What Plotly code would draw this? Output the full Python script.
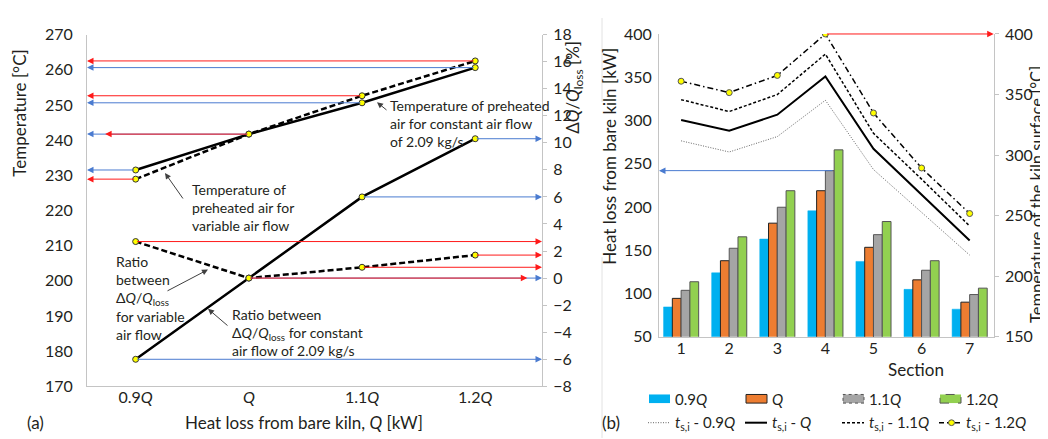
import plotly.graph_objects as go

# ---------------- data: panel (a) ----------------
q_labels = ['0.9<i>Q</i>', '<i>Q</i>', '1.1<i>Q</i>', '1.2<i>Q</i>']
q_pos = [0, 1, 2, 3]
temp_const = [231.5, 241.7, 250.6, 260.6]     # preheated air, constant air flow [°C]
temp_var = [228.9, 241.7, 252.6, 262.5]       # preheated air, variable air flow [°C]
ratio_const = [-6.0, 0.0, 6.0, 10.3]          # dQ/Qloss, constant air flow [%]
ratio_var = [2.7, 0.0, 0.8, 1.7]              # dQ/Qloss, variable air flow [%]

# ---------------- data: panel (b) ----------------
sections = [1, 2, 3, 4, 5, 6, 7]
heat_09 = [84.6, 124.0, 163.0, 195.7, 137.2, 104.9, 82.0]
heat_10 = [94.5, 138.0, 181.4, 218.9, 153.5, 115.9, 90.1]
heat_11 = [103.8, 152.4, 199.8, 242.1, 168.1, 127.0, 98.9]
heat_12 = [113.7, 165.6, 218.9, 266.1, 183.3, 138.0, 106.3]
ts_09 = [311.8, 302.6, 315.3, 345.3, 288.1, 252.6, 217.5]
ts_10 = [329.0, 320.2, 333.4, 365.0, 305.2, 267.6, 229.6]
ts_11 = [345.8, 336.0, 350.0, 383.4, 318.0, 280.2, 241.5]
ts_12 = [361.0, 351.6, 365.8, 400.0, 334.8, 289.4, 251.8]

W, H = 1048, 439
FONT = 'Lato'
TXT = '#231f20'
AX = '#c4c4c4'
RED = '#ff1a1a'
BLUE = '#4a7bd0'
YEL = '#ffff00'


def px(x):
    return x / W


def py(y):
    return 1 - y / H


XA_RANGE = [-0.43, 3.59]
XB_RANGE = [0.54, 7.5]

fig = go.Figure()

mk = dict(symbol='circle', size=6, color=YEL, line=dict(color='#333', width=1))
fig.add_trace(go.Scatter(x=q_pos, y=temp_const, mode='lines+markers', line=dict(color='black', width=2.5),
                         marker=mk, xaxis='x', yaxis='y', showlegend=False))
fig.add_trace(go.Scatter(x=q_pos, y=temp_var, mode='lines+markers', line=dict(color='black', width=2.5, dash='6px,3px'),
                         marker=mk, xaxis='x', yaxis='y', showlegend=False))
fig.add_trace(go.Scatter(x=q_pos, y=ratio_const, mode='lines+markers', line=dict(color='black', width=2.5),
                         marker=mk, xaxis='x', yaxis='y2', showlegend=False))
fig.add_trace(go.Scatter(x=q_pos, y=ratio_var, mode='lines+markers', line=dict(color='black', width=2.5, dash='6px,3px'),
                         marker=mk, xaxis='x', yaxis='y2', showlegend=False))

# panel (b) bars
bar_specs = [
    (heat_09, '#00b0f0', dict(color='#00b0f0', width=0.5)),
    (heat_10, '#ed7d31', dict(color='#222', width=1)),
    (heat_11, '#a5a5a5', dict(color='#555', width=1)),
    (heat_12, '#92d050', dict(color='#555', width=1)),
]
for vals, col, ln in bar_specs:
    fig.add_trace(go.Bar(x=sections, y=vals, marker=dict(color=col, line=ln),
                         xaxis='x2', yaxis='y3', showlegend=False))

# panel (b) lines
fig.add_trace(go.Scatter(x=sections, y=ts_09, mode='lines', line=dict(color='#666', width=1, dash='1px,1.5px'),
                         xaxis='x2', yaxis='y4', showlegend=False))
fig.add_trace(go.Scatter(x=sections, y=ts_10, mode='lines', line=dict(color='black', width=2),
                         xaxis='x2', yaxis='y4', showlegend=False))
fig.add_trace(go.Scatter(x=sections, y=ts_11, mode='lines', line=dict(color='black', width=1.5, dash='3px,2px'),
                         xaxis='x2', yaxis='y4', showlegend=False))
fig.add_trace(go.Scatter(x=sections, y=ts_12, mode='lines+markers',
                         line=dict(color='black', width=1.5, dash='6px,3px,1.5px,3px'),
                         marker=dict(symbol='circle', size=6, color=YEL, line=dict(color='#555', width=1)),
                         xaxis='x2', yaxis='y4', showlegend=False))

ann = []


def harrow(xh, yh, xt, yt, xref, yref, color):
    ann.append(dict(x=xh, y=yh, ax=xt, ay=yt, xref=xref, yref=yref, axref=xref, ayref=yref,
                    showarrow=True, arrowhead=2, arrowsize=1.3, arrowwidth=1, arrowcolor=color,
                    text='', standoff=0))


# left-pointing arrows to temperature axis
harrow(XA_RANGE[0], temp_var[3], q_pos[3], temp_var[3], 'x', 'y', RED)
harrow(XA_RANGE[0], temp_const[3], q_pos[3], temp_const[3], 'x', 'y', BLUE)
harrow(XA_RANGE[0], temp_var[2], q_pos[2], temp_var[2], 'x', 'y', RED)
harrow(XA_RANGE[0], temp_const[2], q_pos[2], temp_const[2], 'x', 'y', BLUE)
harrow(XA_RANGE[0], temp_const[1], q_pos[1], temp_const[1], 'x', 'y', BLUE)
harrow(-0.27, temp_var[1], q_pos[1], temp_var[1], 'x', 'y', RED)
harrow(XA_RANGE[0], temp_const[0], q_pos[0], temp_const[0], 'x', 'y', BLUE)
harrow(XA_RANGE[0], temp_var[0], q_pos[0], temp_var[0], 'x', 'y', RED)
# right-pointing arrows to ratio axis
harrow(XA_RANGE[1], ratio_var[0], q_pos[0], ratio_var[0], 'x', 'y2', RED)
harrow(XA_RANGE[1], ratio_var[2], q_pos[2], ratio_var[2], 'x', 'y2', RED)
harrow(XA_RANGE[1], ratio_var[3], q_pos[3], ratio_var[3], 'x', 'y2', RED)
harrow(XA_RANGE[1], ratio_const[1], q_pos[1], ratio_const[1], 'x', 'y2', BLUE)
harrow(3.46, ratio_var[1], q_pos[1], ratio_var[1], 'x', 'y2', RED)
harrow(XA_RANGE[1], ratio_const[2], q_pos[2], ratio_const[2], 'x', 'y2', BLUE)
harrow(XA_RANGE[1], ratio_const[3], q_pos[3], ratio_const[3], 'x', 'y2', BLUE)
harrow(XA_RANGE[1], ratio_const[0], q_pos[0], ratio_const[0], 'x', 'y2', BLUE)
# panel (b) arrows
harrow(XB_RANGE[0], heat_11[3], sections[3] + 0.18, heat_11[3], 'x2', 'y3', BLUE)
harrow(XB_RANGE[1], ts_12[3], sections[3], ts_12[3], 'x2', 'y4', RED)


def text(x, y, s, size=16, xanchor='center', yanchor='middle', angle=0, align='left'):
    ann.append(dict(x=px(x), y=py(y), xref='paper', yref='paper', text=s, showarrow=False,
                    xanchor=xanchor, yanchor=yanchor, textangle=angle, align=align,
                    font=dict(family=FONT, size=size, color=TXT)))


def parrow(hx, hy, tx, ty):
    ann.append(dict(x=px(hx), y=py(hy), xref='paper', yref='paper', ax=tx - hx, ay=ty - hy,
                    showarrow=True, arrowhead=2, arrowsize=1.2, arrowwidth=1, arrowcolor='#404040',
                    text='', standoff=0))


DQ = 'Δ<i>Q</i>/<i>Q</i><sub>loss</sub>'
# panel (a) callouts
text(380, 81, 'Temperature of preheated<br>air for constant air flow<br>of 2.09 kg/s', 14, 'left', 'top')
parrow(369, 88, 380, 97)
text(182, 168, 'Temperature of<br>preheated air for<br>variable air flow', 14, 'left', 'top')
parrow(157, 162, 176, 189)
text(106, 244, 'Ratio<br>between<br>' + DQ + '<br>for variable<br>air flow', 14, 'left', 'top')
parrow(200, 263, 158, 285)
text(222, 299, 'Ratio between<br>' + DQ + ' for constant<br>air flow of 2.09 kg/s', 14, 'left', 'top')
parrow(200, 304, 221, 322)

# axis titles
text(12, 100, 'Temperature [°C]', 17, angle=-90)
text(566, 73, DQ + ' [%]', 17, angle=-90)
text(296, 423, 'Heat loss from bare kiln, <i>Q</i> [kW]', 17)
text(27, 423, '(a)', 17)
text(602, 145, 'Heat loss from bare kiln [kW]', 17, angle=-90)
text(1029, 185, 'Temperature of the kiln surface [°C]', 16.5, angle=-90)
text(908, 367, 'Section', 17)
text(603, 423, '(b)', 17)

# manual legend
shapes = []
leg_x = [641, 738, 835, 932]
sw = [('#00b0f0', None, 'solid'), ('#ed7d31', '#222', 'solid'), ('#a5a5a5', '#555', 'dot'), ('#92d050', '#555', 'dash')]
leg1 = ['0.9<i>Q</i>', '<i>Q</i>', '1.1<i>Q</i>', '1.2<i>Q</i>']
for lx, (fc, lc, dsh), lab in zip(leg_x, sw, leg1):
    shapes.append(dict(type='rect', xref='paper', yref='paper', x0=px(lx), x1=px(lx + 21), y0=py(402.5), y1=py(393.5),
                       fillcolor=fc, line=dict(color=lc if lc else fc, width=1 if lc else 0, dash=dsh)))
    text(lx + 24, 398, lab, 15, 'left')
ln_styles = [dict(color='#666', width=1, dash='1px,1.5px'), dict(color='black', width=2),
             dict(color='black', width=1.5, dash='3px,2px'), dict(color='black', width=1.5, dash='5px,3px')]
leg2 = ['<i>t</i><sub>s,i</sub> - 0.9<i>Q</i>', '<i>t</i><sub>s,i</sub> - <i>Q</i>',
        '<i>t</i><sub>s,i</sub> - 1.1<i>Q</i>', '<i>t</i><sub>s,i</sub> - 1.2<i>Q</i>']
for lx, st, lab in zip(leg_x, ln_styles, leg2):
    shapes.append(dict(type='line', xref='paper', yref='paper', x0=px(lx - 1), x1=px(lx + 21), y0=py(423), y1=py(423), line=st))
    text(lx + 24, 423, lab, 15, 'left')
shapes.append(dict(type='circle', xref='paper', yref='paper', x0=px(940.5), x1=px(946.5), y0=py(426), y1=py(420),
                   fillcolor=YEL, line=dict(color='#555', width=1)))
# faint panel divider
shapes.append(dict(type='line', xref='paper', yref='paper', x0=px(594), x1=px(594), y0=py(0), y1=py(88),
                   line=dict(color='#e2e2e2', width=1)))
shapes.append(dict(type='line', xref='paper', yref='paper', x0=px(594), x1=px(594), y0=py(250), y1=py(439),
                   line=dict(color='#e2e2e2', width=1)))

tickfont = dict(family=FONT, size=16, color=TXT)
ya_dom = [py(385), py(17.3)]
yb_dom = [py(333.3), py(16.7)]

fig.update_layout(
    width=W, height=H, margin=dict(l=0, r=0, t=0, b=0),
    paper_bgcolor='white', plot_bgcolor='white',
    font=dict(family=FONT, color=TXT),
    barmode='group', bargap=0.27, bargroupgap=0,
    xaxis=dict(domain=[px(79), px(534)], range=XA_RANGE, tickvals=q_pos, ticktext=q_labels,
               showline=True, linecolor=AX, linewidth=1, ticks='', showgrid=False, zeroline=False,
               tickfont=tickfont, anchor='y', ticklabelstandoff=-4),
    yaxis=dict(domain=ya_dom, range=[170, 270], dtick=10, showline=True, linecolor=AX, ticks='',
               showgrid=False, zeroline=False, tickfont=tickfont, anchor='x', ticklabelstandoff=10),
    yaxis2=dict(overlaying='y', side='right', anchor='x', range=[-8, 18], dtick=2, showline=True,
                linecolor=AX, ticks='outside', ticklen=4, tickcolor=AX, showgrid=False, zeroline=False,
                tickfont=tickfont, ticklabelstandoff=3),
    xaxis2=dict(domain=[px(651), px(985.7)], range=XB_RANGE, tickvals=sections, showline=True, linecolor=AX,
                ticks='', showgrid=False, zeroline=False, tickfont=tickfont, anchor='y3', ticklabelstandoff=-3),
    yaxis3=dict(domain=yb_dom, range=[50, 400], dtick=50, showline=True, linecolor=AX, ticks='',
                showgrid=False, zeroline=False, tickfont=tickfont, anchor='x2', ticklabelstandoff=3),
    yaxis4=dict(overlaying='y3', side='right', anchor='x2', range=[150, 400], dtick=50, showline=True,
                linecolor=AX, ticks='outside', ticklen=4, tickcolor=AX, showgrid=False, zeroline=False,
                tickfont=tickfont, ticklabelstandoff=3),
    annotations=ann, shapes=shapes,
)

fig.write_html('out.html')
